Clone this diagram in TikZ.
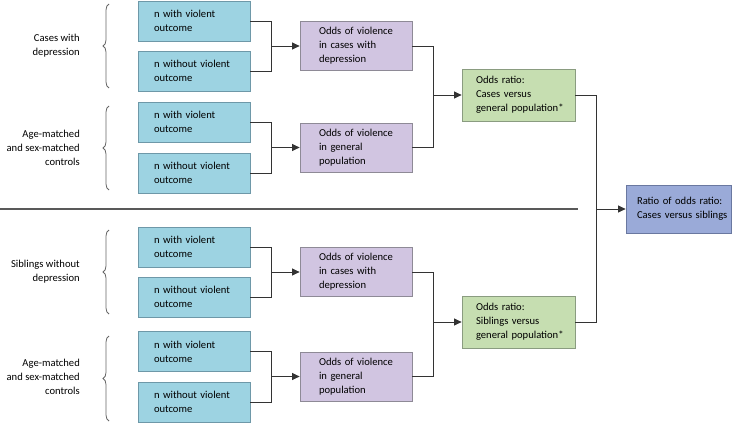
\documentclass[tikz,border=0pt]{standalone}
\usepackage{fontspec}
\setmainfont{Carlito}
\usetikzlibrary{arrows.meta,decorations.pathreplacing}
\definecolor{bluefill}{HTML}{9DD3E2}
\definecolor{blueline}{HTML}{6E98A8}
\definecolor{purpfill}{HTML}{D1C5E1}
\definecolor{purpline}{HTML}{8E8A96}
\definecolor{greenfill}{HTML}{C6DEB1}
\definecolor{greenline}{HTML}{8A9C80}
\definecolor{finalfill}{HTML}{9AAAD8}
\definecolor{finalline}{HTML}{6A78A0}
\definecolor{conn}{HTML}{333333}
\tikzset{
  base/.style={draw, line width=0.8pt, font=\fontsize{10.6}{14}\selectfont, align=left, inner ysep=0pt},
  nbox/.style={base, fill=bluefill, draw=blueline, minimum width=112pt, minimum height=40pt, text width=80pt},
  obox/.style={base, fill=purpfill, draw=purpline, minimum width=112pt, minimum height=49pt, text width=74pt},
  rbox/.style={base, fill=greenfill, draw=greenline, minimum width=113pt, minimum height=52pt, text width=85pt},
  fbox/.style={base, fill=finalfill, draw=finalline, minimum width=105pt, minimum height=48pt, text width=83pt},
  lab/.style={font=\fontsize{10.6}{14}\selectfont, align=right, anchor=east, inner sep=0pt},
  conline/.style={draw=conn, line width=0.8pt},
  arr/.style={conline, -{Triangle[length=7.5pt,width=7pt]}},
  brc/.style={draw=black!60, line width=0.8pt, decorate, decoration={brace, amplitude=6pt}},
}
\begin{document}
\hyphenpenalty=10000
\exhyphenpenalty=10000
\begin{tikzpicture}[x=1pt,y=-1pt]
\useasboundingbox (0,0) rectangle (739,423);
% blue boxes
\node[nbox] (b1) at (194,21) {n with violent\\outcome};
\node[nbox] (b2) at (194,71) {n~without~violent\\outcome};
\node[nbox] (b3) at (194,122) {n with violent\\outcome};
\node[nbox] (b4) at (194,173) {n~without~violent\\outcome};
\node[nbox] (b5) at (194,247) {n with violent\\outcome};
\node[nbox] (b6) at (194,297) {n~without~violent\\outcome};
\node[nbox] (b7) at (194,351.5) {n with violent\\outcome};
\node[nbox] (b8) at (194,402) {n~without~violent\\outcome};
% purple boxes
\node[obox] (p1) at (356,46) {Odds~of~violence\\in cases with\\depression};
\node[obox] (p2) at (356,147.5) {Odds~of~violence\\in general\\population};
\node[obox] (p3) at (356,272) {Odds~of~violence\\in cases with\\depression};
\node[obox] (p4) at (356,376.5) {Odds~of~violence\\in general\\population};
% green boxes
\node[rbox] (g1) at (518.5,95) {Odds ratio:\\Cases versus\\general~population*};
\node[rbox] (g2) at (518.5,322) {Odds ratio:\\Siblings versus\\general~population*};
% final box
\node[fbox] (f) at (678.5,209) {Ratio~of~odds~ratio:\\Cases~versus~siblings};
% junctions
\coordinate (j1) at (271,46);
\coordinate (j2) at (271,147.5);
\coordinate (j3) at (271,272);
\coordinate (j4) at (271,376.5);
\coordinate (k1) at (433,95);
\coordinate (k2) at (433,322);
\coordinate (m) at (596,209);
% connectors blue -> purple
\draw[conline] (b1.east) -| (j1);
\draw[conline] (b2.east) -| (j1);
\draw[arr] (j1) -- (p1.west);
\draw[conline] (b3.east) -| (j2);
\draw[conline] (b4.east) -| (j2);
\draw[arr] (j2) -- (p2.west);
\draw[conline] (b5.east) -| (j3);
\draw[conline] (b6.east) -| (j3);
\draw[arr] (j3) -- (p3.west);
\draw[conline] (b7.east) -| (j4);
\draw[conline] (b8.east) -| (j4);
\draw[arr] (j4) -- (p4.west);
% purple -> green
\draw[conline] (p1.east) -| (k1);
\draw[conline] (p2.east) -| (k1);
\draw[arr] (k1) -- (g1.west);
\draw[conline] (p3.east) -| (k2);
\draw[conline] (p4.east) -| (k2);
\draw[arr] (k2) -- (g2.west);
% green -> final
\draw[conline] (g1.east) -| (m);
\draw[conline] (g2.east) -| (m);
\draw[arr] (m) -- (f.west);
% separator
\coordinate (s1) at (0,209);
\coordinate (s2) at (578,209);
\draw[draw=black!65, line width=1.2pt] (s1) -- (s2);
% braces
\draw[brc] (109,88) -- (109,4);
\draw[brc] (109,190) -- (109,106);
\draw[brc] (109,314) -- (109,230);
\draw[brc] (109,421) -- (109,336);
% labels
\node[lab] (l1) at (80,46) {Cases with\\depression};
\node[lab] (l2) at (80,147.5) {Age-matched\\and sex-matched\\controls};
\node[lab] (l3) at (80,272) {Siblings without\\depression};
\node[lab] (l4) at (80,376.5) {Age-matched\\and sex-matched\\controls};
\end{tikzpicture}
\end{document}
